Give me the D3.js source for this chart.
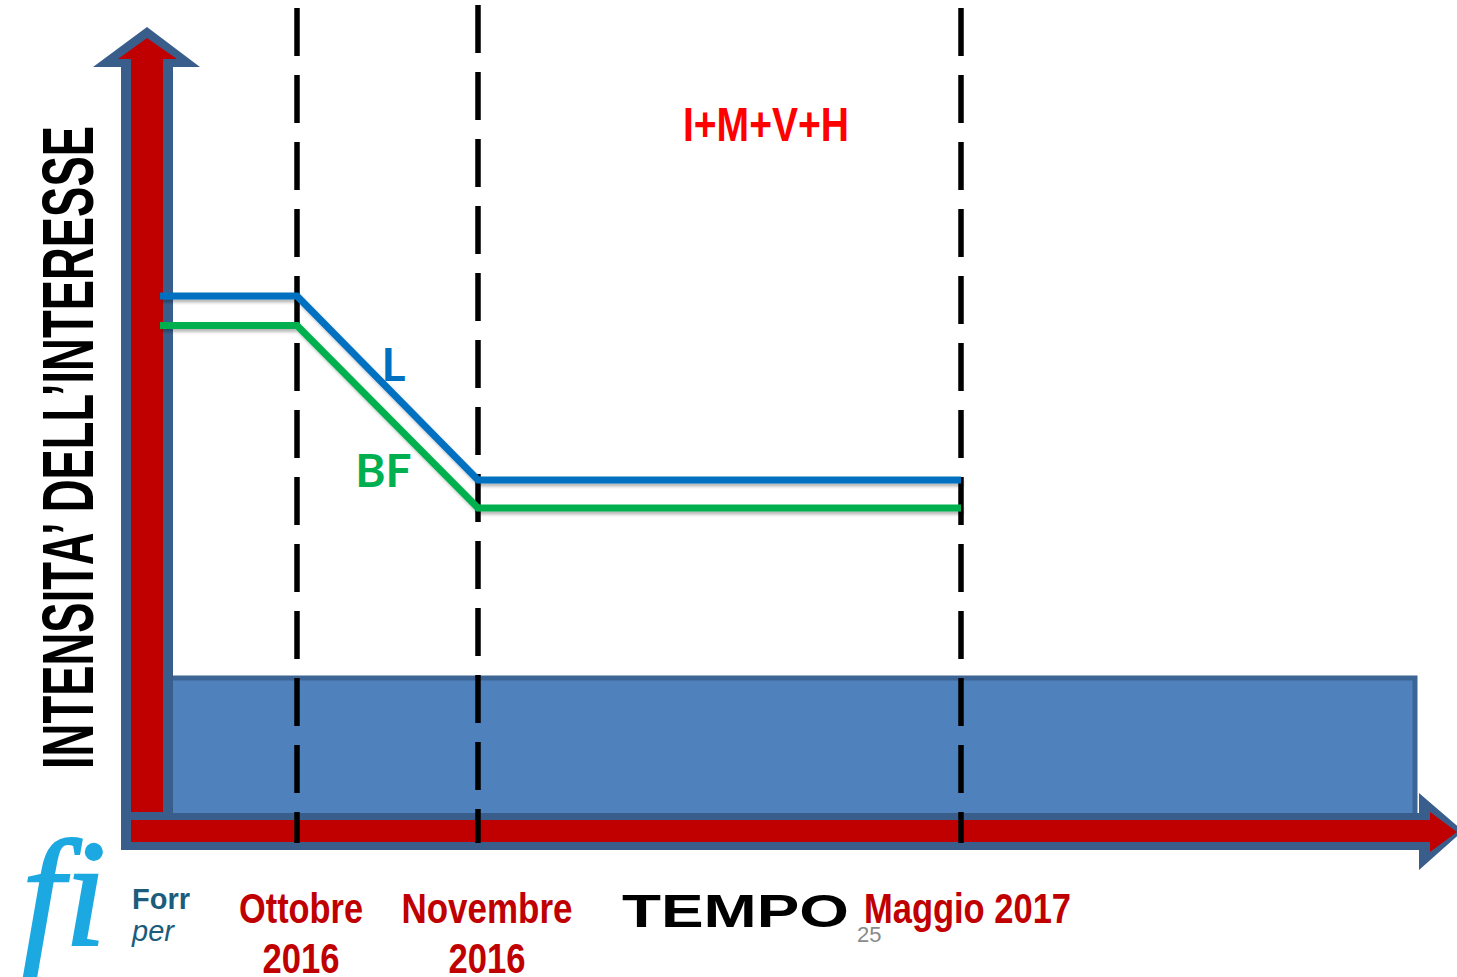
<!DOCTYPE html>
<html><head><meta charset="utf-8">
<script src="https://cdn.jsdelivr.net/npm/d3@7/dist/d3.min.js"></script>
<style>
html,body{margin:0;padding:0;background:#fff;}
svg{display:block;}
</style></head>
<body>
<svg id="chart" width="1457" height="977"></svg>
<script>
// ---------- DATA ----------
// time points: 0 = inizio, 1 = Ottobre 2016, 2 = Novembre 2016, 3 = Maggio 2017
const timePoints = [0, 1, 2, 3];
const dateTimes = [1, 2, 3];
const dateLabels = [["Ottobre", "2016"], ["Novembre", "2016"], ["Maggio 2017"]];
const seriesNames = ["L", "BF", "I+M+V+H"];
const seriesL_t = [0, 1, 2, 3];
const seriesL_v = [67, 67, 44, 44];
const seriesBF_t = [0, 1, 2, 3];
const seriesBF_v = [63.3, 63.3, 40.5, 40.5];
const seriesIMVH_t = [1.74, 3];
const seriesIMVH_v = [80, 80];
const baseBandLevel = 19.5;
const yTitle = "INTENSITA’ DELL’INTERESSE";
const xTitle = "TEMPO";
const pageNumber = "25";

// ---------- SCALES ----------
const svg = d3.select("#chart");
const x = d3.scaleLinear().domain(timePoints).range([160, 297, 478, 961]);
const y = d3.scaleLinear().domain([0, 100]).range([832, 32]);

const C = {
  axisRed: "#C00000", axisBlue: "#3A5E8B", band: "#4F81BD", bandStroke: "#3C6494",
  L: "#0070C0", BF: "#00B050", IMVH: "#FF0000", date: "#C00000"
};

const defs = svg.append("defs");
const f = defs.append("filter").attr("id", "sh").attr("x", "-5%").attr("y", "-50%").attr("width", "110%").attr("height", "200%");
f.append("feDropShadow").attr("dx", 2).attr("dy", 3).attr("stdDeviation", 1.8).attr("flood-color", "#000").attr("flood-opacity", 0.28);

// ---------- AXIS GEOMETRY ----------
const stemL = 121, stemR = 173, redL = 131, redR = 163;
const hTop = 813, hBot = 850, hRedTop = 820, hRedBot = 842;

// base band
svg.append("rect")
  .attr("x", 170).attr("y", y(baseBandLevel) + 2)
  .attr("width", 1245).attr("height", hTop - y(baseBandLevel) + 5)
  .attr("fill", C.band).attr("stroke", C.bandStroke).attr("stroke-width", 5);

// blue arrow outlines
svg.append("path").attr("fill", C.axisBlue)
  .attr("d", `M${stemL},${hBot} L${stemL},67 L93,67 L147,27 L200,67 L${stemR},67 L${stemR},${hBot} Z`);
svg.append("path").attr("fill", C.axisBlue)
  .attr("d", `M${stemL},${hTop} L1419,${hTop} L1419,793 L1463,831 L1419,870 L1419,${hBot} L${stemL},${hBot} Z`);
// red arrows
svg.append("path").attr("fill", C.axisRed)
  .attr("d", `M${redL},812 L${redL},59 L118,59 L147,38 L177,59 L${redR},59 L${redR},812 Z`);
svg.append("path").attr("fill", C.axisRed)
  .attr("d", `M${redL},${hRedTop} L1430,${hRedTop} L1430,812 L1457,832 L1430,852 L1430,${hRedBot} L${redL},${hRedBot} Z`);

// dashed period lines
const dashStarts = [8, 5, 8];
svg.selectAll("line.period").data(dateTimes).join("line")
  .attr("class", "period")
  .attr("x1", d => x(d)).attr("x2", d => x(d))
  .attr("y1", (d, i) => dashStarts[i]).attr("y2", 843)
  .attr("stroke", "#000").attr("stroke-width", 5.5)
  .attr("stroke-dasharray", "48,19");

// series lines
const line = d3.line().x(d => x(d[0])).y(d => y(d[1]));
const series = [
  { name: seriesNames[0], pts: d3.zip(seriesL_t, seriesL_v), color: C.L },
  { name: seriesNames[1], pts: d3.zip(seriesBF_t, seriesBF_v), color: C.BF },
  { name: seriesNames[2], pts: d3.zip(seriesIMVH_t, seriesIMVH_v), color: C.IMVH }
];
svg.selectAll("path.series").data(series).join("path")
  .attr("class", "series")
  .attr("d", d => line(d.pts))
  .attr("fill", "none").attr("stroke", d => d.color)
  .attr("stroke-width", 7).attr("stroke-linejoin", "miter")
  .attr("filter", "url(#sh)");

// series labels
svg.append("text").text(seriesNames[0])
  .attr("x", x(1.5) + 6).attr("y", y(56.4))
  .attr("text-anchor", "middle")
  .attr("font-family", "Lato, 'Open Sans', sans-serif").attr("font-weight", 700)
  .attr("font-size", 46).attr("fill", C.L);
svg.append("text").text(seriesNames[1])
  .attr("x", x(1.5) - 4).attr("y", y(43.1))
  .attr("text-anchor", "middle")
  .attr("font-family", "Lato, 'Open Sans', sans-serif").attr("font-weight", 700)
  .attr("font-size", 46).attr("fill", C.BF);
svg.append("text").text(seriesNames[2])
  .attr("x", (x(seriesIMVH_t[0]) + x(seriesIMVH_t[1])) / 2 + 70).attr("y", y(seriesIMVH_v[0]) - 51)
  .attr("text-anchor", "middle")
  .attr("font-family", "'Liberation Sans Narrow', 'Liberation Sans', Arial, sans-serif").attr("font-weight", 700)
  .attr("font-size", 49).attr("fill", C.IMVH)
  .attr("textLength", 166).attr("lengthAdjust", "spacingAndGlyphs");

// y title
svg.append("text").text(yTitle)
  .attr("transform", "translate(93,447.5) rotate(-90)")
  .attr("text-anchor", "middle")
  .attr("font-family", "'Liberation Sans Narrow', 'Liberation Sans', Arial, sans-serif").attr("font-weight", 700)
  .attr("font-size", 73).attr("fill", "#000")
  .attr("textLength", 643).attr("lengthAdjust", "spacingAndGlyphs");

// x title
svg.append("text").text(xTitle)
  .attr("x", 622).attr("y", 927)
  .attr("font-family", "'Liberation Sans', Arial, sans-serif").attr("font-weight", 700)
  .attr("font-size", 46).attr("fill", "#000")
  .attr("textLength", 227).attr("lengthAdjust", "spacingAndGlyphs");

// page number
svg.append("text").text(pageNumber)
  .attr("x", 857).attr("y", 942)
  .attr("font-family", "'Liberation Sans', Arial, sans-serif")
  .attr("font-size", 22).attr("fill", "#8a8a8a");

// date labels
const dateW = [[124, 77], [171, 77], [207]];
const dateDx = [4, 9, 0];
dateLabels.forEach((lines, i) => {
  const cx = x(dateTimes[i]) + dateDx[i];
  lines.forEach((s, j) => {
    const t = svg.append("text").text(s)
      .attr("y", 923 + j * 50)
      .attr("font-family", "'Liberation Sans Narrow', 'Liberation Sans', Arial, sans-serif").attr("font-weight", 700)
      .attr("font-size", 42).attr("fill", C.date)
      .attr("textLength", dateW[i][j]).attr("lengthAdjust", "spacingAndGlyphs");
    if (i === 2) t.attr("x", 864); else t.attr("x", cx).attr("text-anchor", "middle");
  });
});

// logo
const logo = svg.append("g");
logo.append("text").text("fi")
  .attr("x", 22).attr("y", 945)
  .attr("font-family", "'Liberation Serif', 'DejaVu Serif', serif").attr("font-style", "italic")
  .attr("font-size", 152).attr("fill", "#1CA9E1")
  .attr("stroke", "#1CA9E1").attr("stroke-width", 2);
logo.append("text").text("Forr")
  .attr("x", 132).attr("y", 909)
  .attr("font-family", "'Liberation Sans', Arial, sans-serif").attr("font-weight", 700)
  .attr("font-size", 29).attr("fill", "#1B5C7C");
logo.append("text").text("per")
  .attr("x", 132).attr("y", 941)
  .attr("font-family", "'Liberation Sans', Arial, sans-serif").attr("font-style", "italic")
  .attr("font-size", 29).attr("fill", "#1B5C7C");
</script>
</body></html>
